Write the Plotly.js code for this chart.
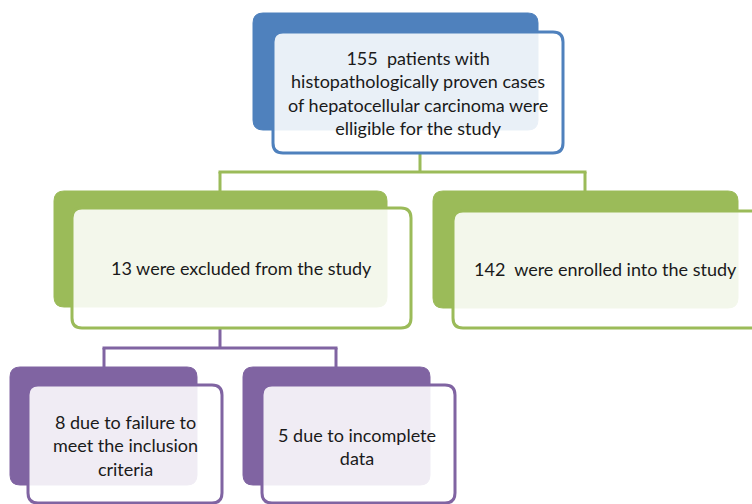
<!DOCTYPE html>
<html>
<head>
<meta charset="utf-8">
<script src="https://cdn.plot.ly/plotly-3.0.1.min.js"></script>
<style>html,body{margin:0;padding:0;background:#fff;}#chart{width:752px;height:504px;}</style>
</head>
<body>
<div id="chart"></div>
<script>
// ---- data ----
const nodeIds = ["eligible", "excluded", "enrolled", "failure", "incomplete"];
const nodeCounts = [155, 13, 142, 8, 5];
const nodeLabels = [
  "155  patients with<br>histopathologically proven cases<br>of hepatocellular carcinoma were<br>elligible for the study",
  "13 were excluded from the study",
  "142  were enrolled into the study",
  "8 due to failure to<br>meet the inclusion<br>criteria",
  "5 due to incomplete<br>data"
];
const nodeParents = [null, "eligible", "eligible", "excluded", "excluded"];

// ---- layout geometry (pixel space) ----
const geom = {
  eligible:   {back:[253,13,538,130],  front:[273,32,563,153],  text:[418,93],  color:"#4F81BD"},
  excluded:   {back:[54,191,387,307],  front:[72,208,411,328],  text:[241,268], color:"#9BBB59"},
  enrolled:   {back:[433,191,738,308], front:[453,211,795,328], text:[605,269], color:"#9BBB59"},
  failure:    {back:[10,367,197,485],  front:[28,385,222,503],  text:[125,445], color:"#8064A2"},
  incomplete: {back:[243,367,430,485], front:[262,385,455,503], text:[357,446], color:"#8064A2"}
};
const connectors = {
  eligible: {x:420, y0:153, yh:172, xs:[220,585], y1:191, color:"#9BBB59"},
  excluded: {x:220, y0:328, yh:348, xs:[104,336], y1:367, color:"#8064A2"}
};

function rrect(b, r) {
  const [x0,y0,x1,y1] = b;
  return `M${x0+r},${y0} L${x1-r},${y0} Q${x1},${y0} ${x1},${y0+r} L${x1},${y1-r} Q${x1},${y1} ${x1-r},${y1} L${x0+r},${y1} Q${x0},${y1} ${x0},${y1-r} L${x0},${y0+r} Q${x0},${y0} ${x0+r},${y0} Z`;
}

const shapes = [];
const annotations = [];

Object.keys(connectors).forEach(k => {
  const c = connectors[k];
  const line = {color:c.color, width:3};
  shapes.push({type:"line", xref:"x", yref:"y", x0:c.x, x1:c.x, y0:c.y0, y1:c.yh, line});
  shapes.push({type:"line", xref:"x", yref:"y", x0:c.xs[0]-1.5, x1:c.xs[1]+1.5, y0:c.yh, y1:c.yh, line});
  c.xs.forEach(x => shapes.push({type:"line", xref:"x", yref:"y", x0:x, x1:x, y0:c.yh, y1:c.y1, line}));
});

nodeIds.forEach((id, i) => {
  const g = geom[id];
  shapes.push({type:"path", xref:"x", yref:"y", path:rrect(g.back, 10), fillcolor:g.color, line:{color:g.color, width:1}});
  shapes.push({type:"path", xref:"x", yref:"y", path:rrect(g.front, 10), fillcolor:"rgba(255,255,255,0.88)", line:{color:g.color, width:3}});
  annotations.push({x:g.text[0], y:g.text[1], xref:"x", yref:"y", text:nodeLabels[i], showarrow:false,
    font:{family:"Lato, 'Open Sans', sans-serif", size:18, color:"#1a1a1a"}, align:"center", xanchor:"center", yanchor:"middle"});
});

const trace = {x:nodeIds.map(id => geom[id].text[0]), y:nodeIds.map(id => geom[id].text[1]),
  customdata:nodeCounts, mode:"markers", marker:{opacity:0}, hoverinfo:"skip", showlegend:false, type:"scatter"};

const layout = {
  width:752, height:504, margin:{l:0,r:0,t:0,b:0},
  paper_bgcolor:"#fff", plot_bgcolor:"#fff",
  xaxis:{range:[0,752], visible:false, fixedrange:true},
  yaxis:{range:[504,0], visible:false, fixedrange:true},
  shapes, annotations, showlegend:false
};
Plotly.newPlot("chart", [trace], layout, {staticPlot:true});
</script>
</body>
</html>
